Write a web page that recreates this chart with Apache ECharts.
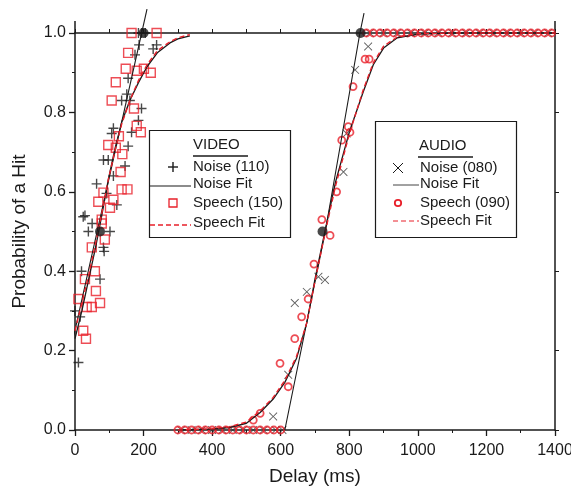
<!DOCTYPE html>
<html><head><meta charset="utf-8">
<script src="https://cdn.jsdelivr.net/npm/echarts@6/dist/echarts.min.js"></script>
<style>html,body{margin:0;padding:0;background:#fff}#c{width:571px;height:487px}</style>
</head><body><div id="c"></div>
<script>
// ---- tick labels ----
const xTickValues = [0, 200, 400, 600, 800, 1000, 1200, 1400];
const yTickLabels = ['0.0', '0.2', '0.4', '0.6', '0.8', '1.0'];

// ---- VIDEO data ----
const videoNoise = [[194,1.0],[205,1.0],[185,1.0],[187,0.97],[238,0.97],[228,0.96],[175,0.945],[155,0.886],
  [151,0.846],[136,0.83],[160,0.83],[194,0.81],[185,0.78],[165,0.75],[112,0.76],[107,0.747],[155,0.715],
  [83,0.68],[97,0.68],[146,0.665],[63,0.62],[112,0.64],[92,0.596],[122,0.567],[29,0.54],[24,0.537],
  [39,0.50],[102,0.50],[83,0.46],[19,0.40],[73,0.38],[0,0.30],[15,0.285],[10,0.17],[85,0.45],[50,0.52]];
const videoSpeech = [[165,1.0],[238,1.0],[155,0.95],[148,0.91],[180,0.905],[201,0.91],[221,0.90],[119,0.876],
  [107,0.83],[172,0.81],[180,0.766],[192,0.75],[128,0.74],[97,0.718],[119,0.711],[138,0.695],[133,0.65],
  [153,0.606],[136,0.606],[83,0.598],[68,0.575],[112,0.58],[102,0.56],[78,0.53],[78,0.52],[49,0.46],
  [87,0.48],[58,0.40],[29,0.38],[61,0.35],[73,0.32],[49,0.31],[10,0.33],[34,0.31],[24,0.25],[32,0.23]];
const videoLine = [[-60,0.02],[210,1.06]];
const videoNoiseFit = [[0,0.23],[20,0.30],[40,0.38],[60,0.46],[78,0.54],[97,0.63],[117,0.71],[136,0.775],
  [160,0.83],[185,0.875],[210,0.915],[240,0.95],[277,0.975],[300,0.985],[335,0.993]];
const videoSpeechFit = [[0,0.25],[20,0.32],[40,0.39],[60,0.47],[78,0.545],[97,0.63],[117,0.705],[136,0.77],
  [160,0.83],[185,0.88],[210,0.92],[240,0.955],[277,0.978],[300,0.988],[335,0.996]];
const videoMid = [[73,0.5],[200,1.0]];

// ---- AUDIO data ----
const audioNoise = [[855,0.966],[817,0.907],[792,0.747],[783,0.65],[729,0.378],[710,0.386],[676,0.348],
  [641,0.32],[622,0.139],[578,0.034],
  [860,1],[900,1],[940,1],[980,1],[1020,1],[1060,1],[1100,1],[1140,1],[1180,1],[1220,1],[1260,1],[1300,1],[1340,1],[1380,1],
  [310,0],[340,0],[370,0],[400,0],[430,0],[460,0],[490,0],[520,0],[550,0],[585,0],[605,0]];
const audioSpeech = [[846,0.934],[858,0.934],[811,0.865],[797,0.764],[802,0.75],[778,0.73],[763,0.60],[720,0.53],
  [744,0.49],[697,0.418],[680,0.33],[661,0.285],[641,0.23],[598,0.168],[622,0.109],[540,0.042],[520,0.025],
  [850,1],[870,1],[890,1],[910,1],[930,1],[950,1],[970,1],[990,1],[1010,1],[1030,1],[1050,1],[1070,1],[1090,1],
  [1110,1],[1130,1],[1150,1],[1170,1],[1190,1],[1210,1],[1230,1],[1250,1],[1270,1],[1290,1],[1310,1],[1330,1],
  [1350,1],[1370,1],[1390,1],
  [300,0],[320,0],[340,0],[360,0],[380,0],[400,0],[420,0],[440,0],[460,0],[480,0],[500,0],[520,0],[540,0],[560,0],[580,0],[600,0]];
const audioLine = [[612,0.0],[730,0.5],[831,1.0],[843,1.05]];
const audioNoiseFit = [[300,0.0],[400,0.002],[450,0.006],[500,0.017],[540,0.044],[578,0.078],[612,0.12],
  [646,0.18],[676,0.27],[700,0.38],[729,0.5],[760,0.625],[800,0.75],[840,0.85],[870,0.92],[900,0.962],
  [940,0.988],[1000,0.997],[1100,1.0],[1400,1.0]];
const audioSpeechFit = [[300,0.0],[400,0.003],[450,0.008],[500,0.02],[540,0.048],[578,0.082],[612,0.125],
  [646,0.185],[676,0.27],[700,0.375],[729,0.495],[760,0.615],[800,0.745],[840,0.855],[870,0.925],[900,0.967],
  [940,0.99],[1000,0.998],[1100,1.0],[1400,1.0]];
const audioMid = [[722,0.5],[833,1.0]];

const RED = '#e8202a';
const BLACK = '#1a1a1a';
const PLUS = 'path://M4.3,0H5.7V4.3H10V5.7H5.7V10H4.3V5.7H0V4.3H4.3Z';
const XMARK = 'path://M4.6,0H5.4V4.6H10V5.4H5.4V10H4.6V5.4H0V4.6H4.6Z';
const FONT = 'Liberation Sans, Arial, sans-serif';

const chart = echarts.init(document.getElementById('c'), null, {renderer: 'canvas'});

function fitLine(data, color, width, dashed, z) {
  return {type: 'line', data: data, showSymbol: false, symbol: 'none', clip: false, silent: true,
    lineStyle: {color: color, width: width, type: dashed ? [5, 3] : 'solid'}, z: z || 3, animation: false};
}

function txt(x, y, s) {
  return {type: 'text', x: x, y: y, style: {text: s, font: '15px ' + FONT, fill: BLACK, verticalAlign: 'middle'}};
}
function legendFrame(left, top, width, height, title, titleX, underX, row0) {
  return [
    {type: 'rect', shape: {x: left, y: top, width: width, height: height},
      style: {fill: '#fff', stroke: BLACK, lineWidth: 1.2}},
    txt(titleX, row0 - 22, title),
    {type: 'line', shape: {x1: underX, y1: row0 - 11, x2: underX + 55, y2: row0 - 11}, style: {stroke: BLACK, lineWidth: 1.3}}
  ];
}

const vRows = [167, 184, 203, 223];
const aRows = [168, 184, 203, 221];
const graphics = [];
// VIDEO legend
graphics.push(...legendFrame(149.5, 130.5, 141, 107, 'VIDEO', 193, 193, vRows[0]));
graphics.push(
  {type: 'rect', shape: {x: 172.3, y: vRows[0] - 5, width: 1.4, height: 10}, style: {fill: BLACK}},
  {type: 'rect', shape: {x: 168, y: vRows[0] - 0.7, width: 10, height: 1.4}, style: {fill: BLACK}},
  txt(193, vRows[0], 'Noise (110)'),
  {type: 'line', shape: {x1: 150, y1: vRows[1] + 2, x2: 191, y2: vRows[1] + 2}, style: {stroke: BLACK, lineWidth: 1.2}},
  txt(193, vRows[1], 'Noise Fit'),
  {type: 'rect', shape: {x: 169, y: vRows[2] - 4, width: 8, height: 8}, style: {fill: 'none', stroke: RED, lineWidth: 1.3}},
  txt(193, vRows[2], 'Speech (150)'),
  {type: 'line', shape: {x1: 150, y1: vRows[3] + 2, x2: 191, y2: vRows[3] + 2}, style: {stroke: RED, lineWidth: 1.3, lineDash: [5, 3]}},
  txt(193, vRows[3], 'Speech Fit')
);
// AUDIO legend
graphics.push(...legendFrame(375.5, 121.5, 141, 116, 'AUDIO', 419, 418, aRows[0]));
graphics.push(
  {type: 'line', shape: {x1: 393, y1: aRows[0] - 5, x2: 403, y2: aRows[0] + 5}, style: {stroke: BLACK, lineWidth: 1}},
  {type: 'line', shape: {x1: 403, y1: aRows[0] - 5, x2: 393, y2: aRows[0] + 5}, style: {stroke: BLACK, lineWidth: 1}},
  txt(420, aRows[0], 'Noise (080)'),
  {type: 'line', shape: {x1: 393, y1: aRows[1] + 1, x2: 419, y2: aRows[1] + 1}, style: {stroke: '#444', lineWidth: 1}},
  txt(420, aRows[1], 'Noise Fit'),
  {type: 'circle', shape: {cx: 398, cy: aRows[2], r: 3.2}, style: {fill: 'none', stroke: RED, lineWidth: 1.8}},
  txt(420, aRows[2], 'Speech (090)'),
  {type: 'line', shape: {x1: 393, y1: aRows[3], x2: 419, y2: aRows[3]}, style: {stroke: RED, lineWidth: 1, lineDash: [5, 3]}},
  txt(420, aRows[3], 'Speech Fit')
);

const axisLineStyle = {color: BLACK, width: 1.5};

chart.setOption({
  animation: false,
  backgroundColor: '#fff',
  textStyle: {fontFamily: FONT},
  grid: {left: 75, right: 16, top: 33, bottom: 57, containLabel: false, outerBoundsMode: 'none'},
  xAxis: [
    {type: 'value', min: 0, max: 1400, interval: 200, position: 'bottom',
      axisLine: {show: true, onZero: false, lineStyle: axisLineStyle},
      axisTick: {show: true, inside: false, length: 6, lineStyle: {color: BLACK, width: 1.3}},
      minorTick: {show: true, splitNumber: 2, length: 3, lineStyle: {color: BLACK, width: 1}},
      splitLine: {show: false},
      axisLabel: {show: true, color: BLACK, fontSize: 16, margin: 13,
        formatter: v => xTickValues.indexOf(v) >= 0 ? String(v) : ''},
      name: 'Delay (ms)', nameLocation: 'middle', nameGap: 37,
      nameTextStyle: {fontSize: 19, color: BLACK}},
    {type: 'value', min: 0, max: 1400, interval: 100, position: 'top',
      axisLine: {show: true, onZero: false, lineStyle: axisLineStyle},
      axisTick: {show: true, inside: false, length: 4, lineStyle: {color: BLACK, width: 1}},
      splitLine: {show: false}, axisLabel: {show: false}}
  ],
  yAxis: [
    {type: 'value', min: 0, max: 1, interval: 0.2, position: 'left',
      axisLine: {show: true, onZero: false, lineStyle: axisLineStyle},
      axisTick: {show: true, inside: false, length: 6, lineStyle: {color: BLACK, width: 1.3}},
      minorTick: {show: true, splitNumber: 2, length: 3, lineStyle: {color: BLACK, width: 1}},
      splitLine: {show: false},
      axisLabel: {show: true, color: BLACK, fontSize: 16, margin: 9,
        formatter: v => yTickLabels[Math.round(v * 5)] || ''},
      name: 'Probability of a Hit', nameLocation: 'middle', nameGap: 46, nameRotate: 90,
      nameTextStyle: {fontSize: 19, color: BLACK}},
    {type: 'value', min: 0, max: 1, interval: 0.2, position: 'right',
      axisLine: {show: true, onZero: false, lineStyle: axisLineStyle},
      axisTick: {show: true, inside: false, length: 4, lineStyle: {color: BLACK, width: 1}},
      splitLine: {show: false}, axisLabel: {show: false}}
  ],
  series: [
    fitLine([[0, 1.0], [0, 1.03]], BLACK, 1.5, false, 2),
    fitLine([[1400, 1.0], [1400, 1.03]], BLACK, 1.5, false, 2),
    {type: 'scatter', data: videoNoise, symbol: PLUS, symbolSize: 10, clip: false,
      itemStyle: {color: BLACK}, z: 4},
    {type: 'scatter', data: videoSpeech, symbol: 'rect', symbolSize: 9, clip: false,
      itemStyle: {color: 'rgba(0,0,0,0)', borderColor: RED, borderWidth: 1.4}, z: 5},
    {type: 'scatter', data: audioNoise, symbol: XMARK, symbolSize: 11, symbolRotate: 45, clip: false,
      itemStyle: {color: '#333'}, z: 4},
    {type: 'scatter', data: audioSpeech, symbol: 'circle', symbolSize: 7, clip: false,
      itemStyle: {color: 'rgba(0,0,0,0)', borderColor: RED, borderWidth: 1.8}, z: 5},
    fitLine(videoLine, BLACK, 1.1, false, 6),
    fitLine(videoNoiseFit, BLACK, 1.3, false, 6),
    fitLine(videoSpeechFit, RED, 1.4, true, 7),
    fitLine(audioLine, BLACK, 1.1, false, 6),
    fitLine(audioNoiseFit, BLACK, 1.3, false, 6),
    fitLine(audioSpeechFit, RED, 1.4, true, 7),
    {type: 'scatter', data: videoMid.concat(audioMid), symbol: 'circle', symbolSize: 10, clip: false,
      itemStyle: {color: BLACK}, z: 8}
  ],
  graphic: graphics.map(g => Object.assign({z: 100, silent: true}, g))
});
</script>
</body></html>
